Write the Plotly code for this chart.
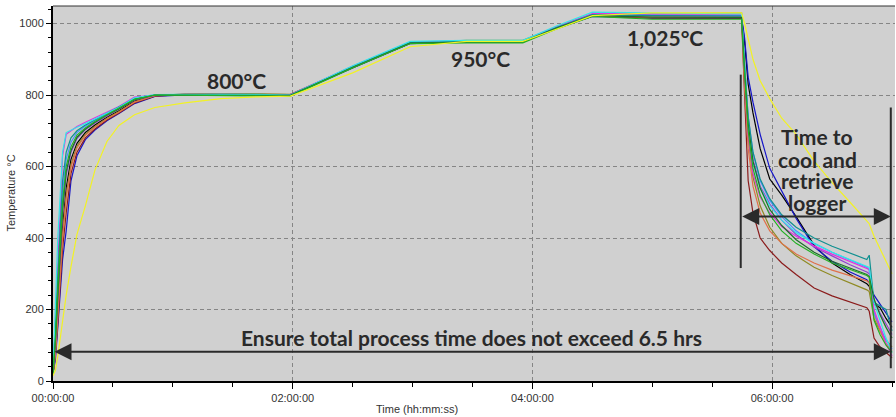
import plotly.graph_objects as go

# Time in hours (shared sample times)
T_HOURS = [0.00, 0.02, 0.04, 0.06, 0.08, 0.11, 0.15, 0.20, 0.27, 0.35, 0.45, 0.55, 0.68, 0.85,
           1.10, 1.40, 1.70, 1.98, 2.50, 2.98, 3.45, 3.92, 4.20, 4.50, 5.00, 5.40, 5.745,
           5.77, 5.80, 5.84, 5.90, 5.98, 6.08, 6.20, 6.35, 6.50, 6.65, 6.79, 6.81, 6.85, 6.90, 6.95, 7.00]

cyan = [20, 220, 400, 520, 640, 695, 702, 710, 720, 733, 750, 766, 792, 801,
        802, 803, 802, 800, 882, 950, 953, 953, 993, 1032, 1029, 1028, 1027,
        900, 720, 610, 540, 490, 450, 415, 385, 360, 340, 320, 318, 220, 170, 120, 80]
magenta = [20, 180, 360, 500, 630, 690, 700, 712, 724, 737, 753, 768, 794, 800,
           802, 801, 802, 801, 880, 948, 952, 952, 991, 1028, 1027, 1027, 1026,
           860, 690, 580, 515, 470, 432, 405, 378, 355, 335, 315, 312, 200, 150, 105, 70]
teal = [20, 150, 310, 440, 560, 640, 680, 700, 716, 731, 749, 765, 790, 800,
        801, 801, 801, 800, 879, 947, 950, 950, 989, 1025, 1022, 1022, 1021,
        880, 740, 640, 565, 510, 465, 430, 400, 377, 358, 340, 352, 220, 210, 200, 140]
lightblue = [20, 140, 290, 420, 530, 620, 668, 695, 713, 729, 747, 764, 789, 800,
             801, 802, 801, 800, 880, 948, 951, 951, 990, 1026, 1024, 1023, 1023,
             890, 740, 640, 560, 505, 460, 420, 385, 360, 338, 318, 310, 190, 150, 115, 90]
green = [20, 120, 260, 390, 500, 600, 655, 688, 708, 726, 745, 762, 788, 800,
         799, 798, 798, 797, 876, 944, 946, 946, 985, 1020, 1012, 1012, 1012,
         860, 700, 595, 520, 465, 420, 385, 355, 330, 312, 295, 290, 170, 130, 100, 80]
darkgreen = [20, 110, 240, 370, 480, 585, 645, 682, 705, 724, 744, 761, 787, 800,
             800, 800, 799, 799, 877, 945, 948, 948, 987, 1022, 1018, 1017, 1017,
             870, 720, 615, 540, 480, 435, 395, 360, 335, 315, 298, 292, 230, 185, 150, 120]
purple = [20, 100, 230, 360, 470, 575, 640, 678, 703, 722, 742, 760, 786, 799,
          801, 801, 800, 800, 879, 947, 950, 950, 989, 1025, 1022, 1021, 1021,
          880, 720, 620, 545, 495, 450, 410, 375, 350, 325, 305, 300, 225, 190, 160, 130]
black = [20, 90, 210, 330, 430, 540, 620, 665, 695, 716, 738, 756, 783, 799,
         801, 802, 802, 800, 877, 945, 951, 951, 987, 1022, 1016, 1015, 1015,
         950, 830, 750, 650, 565, 520, 460, 380, 330, 298, 272, 265, 215, 205, 175, 150]
olive = [20, 80, 190, 310, 410, 520, 605, 657, 690, 712, 735, 754, 781, 798,
         803, 804, 804, 802, 878, 946, 953, 953, 990, 1025, 1028, 1029, 1029,
         840, 680, 570, 490, 430, 385, 350, 318, 295, 275, 255, 250, 175, 140, 115, 95]
orange = [20, 75, 180, 300, 400, 510, 598, 652, 687, 710, 733, 752, 780, 798,
          800, 800, 800, 799, 877, 945, 949, 949, 987, 1021, 1018, 1018, 1018,
          820, 650, 545, 470, 420, 385, 355, 330, 310, 295, 280, 275, 190, 140, 105, 85]
maroon = [20, 70, 160, 280, 370, 470, 580, 640, 680, 705, 730, 750, 778, 797,
          802, 803, 803, 801, 877, 945, 950, 950, 987, 1021, 1016, 1016, 1016,
          800, 560, 470, 400, 365, 330, 298, 260, 238, 220, 205, 195, 120, 95, 80, 65]
blue = [20, 60, 150, 260, 340, 420, 560, 630, 675, 702, 728, 748, 776, 796,
        800, 801, 801, 799, 876, 944, 949, 949, 986, 1020, 1016, 1016, 1016,
        960, 850, 780, 690, 595, 530, 455, 375, 335, 305, 283, 275, 240, 215, 190, 165]
yellow = [15, 30, 70, 120, 170, 240, 320, 410, 490, 590, 670, 715, 745, 765,
          778, 790, 795, 797, 862, 935, 950, 950, 984, 1022, 1030, 1030, 1030,
          1000, 960, 900, 840, 790, 735, 690, 615, 555, 500, 445, 440, 405, 370, 335, 300]

SERIES = [
    ("Black", black, "#000000"),
    ("Blue", blue, "#1414c8"),
    ("Maroon", maroon, "#8b1c1c"),
    ("Olive", olive, "#8f8a22"),
    ("Orange", orange, "#e0704a"),
    ("Purple", purple, "#9040d0"),
    ("Light blue", lightblue, "#4a8cff"),
    ("Magenta", magenta, "#e030e0"),
    ("Teal", teal, "#109090"),
    ("Cyan", cyan, "#30e8e8"),
    ("Dark green", darkgreen, "#1e6e2a"),
    ("Green", green, "#22b022"),
    ("Yellow", yellow, "#f2f224"),
]

X_TICKS = [0, 2, 4, 6]
X_TICK_LABELS = ["00:00:00", "02:00:00", "04:00:00", "06:00:00"]
Y_TICKS = [0, 200, 400, 600, 800, 1000]

fig = go.Figure()
for name, vals, col in SERIES:
    fig.add_trace(go.Scatter(x=T_HOURS, y=vals, mode="lines", name=name,
                             line=dict(color=col, width=1.2), showlegend=False))

ann_font = dict(family="Lato, Open Sans, sans-serif", size=21, color="#2a2a2a")
labels = [
    (1.535, 840, "<b>800°C</b>"),
    (3.563, 902, "<b>950°C</b>"),
    (5.106, 961, "<b>1,025°C</b>"),
    (6.375, 683, "<b>Time to</b>"),
    (6.375, 620, "<b>cool and</b>"),
    (6.375, 560, "<b>retrieve</b>"),
    (6.375, 500, "<b>logger</b>"),
    (3.488, 123, "<b>Ensure total process time does not exceed 6.5 hrs</b>"),
]
for x, y, t in labels:
    fig.add_annotation(x=x, y=y, xref="x", yref="y", text=t, showarrow=False,
                       font=ann_font, align="center", yanchor="middle")

# double-headed arrows
for (x0, x1, y) in [(0.0, 6.99, 82), (5.738, 6.99, 460)]:
    fig.add_annotation(x=x1, y=y, ax=x0, ay=y, xref="x", yref="y", axref="x", ayref="y",
                       text="", showarrow=True, arrowhead=2, arrowside="end+start",
                       arrowsize=1.7, arrowwidth=2, arrowcolor="#2a2a2a")

# vertical marker lines
fig.add_shape(type="line", x0=5.738, x1=5.738, y0=316, y1=857, xref="x", yref="y",
              line=dict(color="#2a2a2a", width=2))
fig.add_shape(type="line", x0=6.99, x1=6.99, y0=36, y1=765, xref="x", yref="y",
              line=dict(color="#2a2a2a", width=2))
# top frame
fig.add_shape(type="line", x0=0, x1=1, y0=1, y1=1, xref="paper", yref="paper",
              line=dict(color="#333333", width=1))

fig.add_annotation(x=-0.051, y=0.5, xref="paper", yref="paper", text="Temperature °C",
                   textangle=-90, showarrow=False, xanchor="center", yanchor="middle",
                   font=dict(family="Liberation Sans, Arial, sans-serif", size=11, color="#333"))
fig.add_annotation(x=0.432, y=-0.075, xref="paper", yref="paper", text="Time (hh:mm:ss)",
                   showarrow=False, yanchor="middle",
                   font=dict(family="Liberation Sans, Arial, sans-serif", size=11, color="#333"))

tick_font = dict(family="Liberation Sans, Arial, sans-serif", size=11, color="#333")
fig.update_layout(
    width=896, height=417,
    margin=dict(l=53, r=1, t=6, b=36, autoexpand=False),
    paper_bgcolor="white", plot_bgcolor="#d0d0d0",
    hovermode=False,
    xaxis=dict(range=[0, 7.025], tickvals=X_TICKS, ticktext=X_TICK_LABELS,
               showline=True, linecolor="black", linewidth=2,
               ticks="outside", ticklen=6, tickcolor="black", tickwidth=1,
               showgrid=True, gridcolor="#858585", griddash="4px,3px", gridwidth=1,
               zeroline=False, tickfont=tick_font,
               minor=dict(dtick=0.5, tick0=0, ticks="outside", ticklen=4, tickcolor="black", showgrid=False)),
    yaxis=dict(range=[0, 1049], tickvals=Y_TICKS,
               showline=True, linecolor="black", linewidth=2,
               ticks="outside", ticklen=5, tickcolor="black", tickwidth=1,
               showgrid=True, gridcolor="#858585", griddash="4px,3px", gridwidth=1,
               zeroline=False, tickfont=tick_font,
               minor=dict(dtick=40, tick0=0, ticks="outside", ticklen=3, tickcolor="black", showgrid=False)),
)

fig.write_html("out.html", config={"displayModeBar": False},
               post_script="document.body.style.margin='0';document.body.style.overflow='hidden';")
